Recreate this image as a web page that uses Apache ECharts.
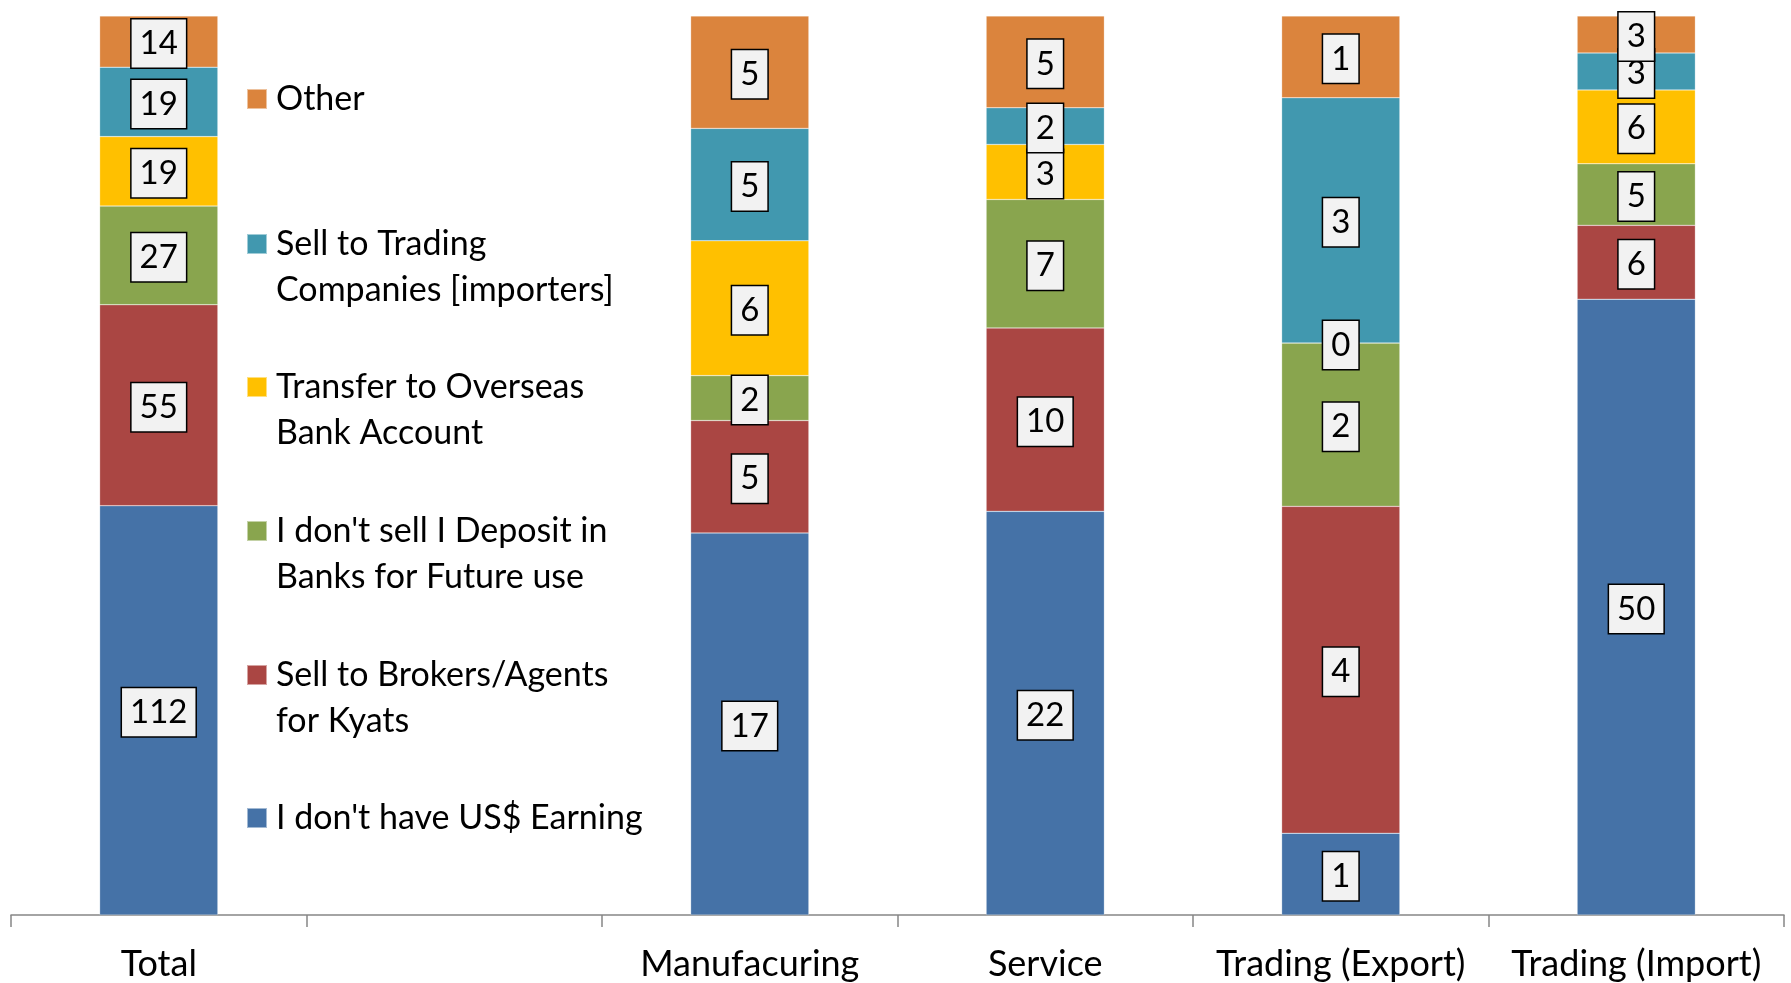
<!DOCTYPE html>
<html lang="en">
<head>
    <meta charset="UTF-8">
    <title>US$ earnings usage</title>
    <script src="https://cdn.jsdelivr.net/npm/echarts@6/dist/echarts.min.js"></script>
    <style>
        html, body { margin: 0; padding: 0; background: #fff; }
        #chart { width: 1791px; height: 983px; }
    </style>
</head>
<body>
<div id="chart"></div>
<script type="text/javascript">
    // categories (second slot is left empty, the legend sits there)
    var categories = ['Total', '', 'Manufacuring', 'Service', 'Trading (Export)', 'Trading (Import)'];

    // counts per answer, bottom of the stack first
    var noUsEarning      = [112, null, 17, 22, 1, 50];
    var sellBrokers      = [55, null, 5, 10, 4, 6];
    var depositBanks     = [27, null, 2, 7, 2, 5];
    var transferOverseas = [19, null, 6, 3, 0, 6];
    var sellTrading      = [19, null, 5, 2, 3, 3];
    var other            = [14, null, 5, 5, 1, 3];

    var seriesNames = [
        "I don't have US$ Earning",
        'Sell to Brokers/Agents for Kyats',
        "I don't sell I Deposit in Banks for Future use",
        'Transfer to Overseas Bank Account',
        'Sell to Trading Companies [importers]',
        'Other'
    ];
    var legendText = [
        "I don't have US$ Earning",
        'Sell to Brokers/Agents\nfor Kyats',
        "I don't sell I Deposit in\nBanks for Future use",
        'Transfer to Overseas\nBank Account',
        'Sell to Trading\nCompanies [importers]',
        'Other'
    ];
    var colors = ['#4572A7', '#AA4643', '#89A54E', '#FFC000', '#4198AF', '#DB843D'];
    var counts = [noUsEarning, sellBrokers, depositBanks, transferOverseas, sellTrading, other];

    var font = 'Lato';
    var totals = categories.map(function (c, i) {
        var s = 0;
        counts.forEach(function (arr) { if (arr[i] != null) s += arr[i]; });
        return s;
    });

    var series = counts.map(function (arr, k) {
        return {
            name: seriesNames[k],
            type: 'bar',
            stack: 'all',
            barWidth: '40%',
            itemStyle: { color: colors[k], borderColor: 'rgba(255,255,255,0.5)', borderWidth: 0.5 },
            label: {
                show: true,
                position: 'inside',
                offset: [0, 2],
                formatter: function (p) { return arr[p.dataIndex]; },
                fontFamily: font,
                fontSize: 33,
                lineHeight: 36,
                color: '#000',
                backgroundColor: '#f2f2f2',
                borderColor: '#000',
                borderWidth: 1.5,
                padding: [6, 8]
            },
            data: arr.map(function (v, i) {
                return v == null ? '-' : v / totals[i] * 100;
            })
        };
    });

    // one legend per entry, spread down the empty slot like the original.
    // two-line entries get an empty first line so the marker sits on the first text line
    var legendCenters = [818, 675, 531, 387, 244, 99];
    var legends = seriesNames.map(function (name, k) {
        var twoLines = legendText[k].indexOf('\n') >= 0;
        return {
            data: [name],
            left: 246,
            top: legendCenters[k] - (twoLines ? 69 : 23),
            padding: 0,
            icon: 'rect',
            itemWidth: 20,
            itemHeight: 20,
            formatter: function () { return (twoLines ? '\n' : '') + legendText[k]; },
            textStyle: {
                fontFamily: font,
                fontSize: 34,
                lineHeight: 46,
                color: '#000',
                padding: [0, 0, 0, 4]
            }
        };
    });

    var myChart = echarts.init(document.getElementById('chart'));
    var option = {
        animation: false,
        color: colors,
        legend: legends,
        grid: { left: 11, right: 7, top: 16, bottom: 68, containLabel: false },
        xAxis: {
            type: 'category',
            data: categories,
            axisLine: { lineStyle: { color: '#868686', width: 1.5 } },
            axisTick: { show: true, interval: 0, length: 12, lineStyle: { color: '#868686', width: 1.5 } },
            axisLabel: { interval: 0, fontFamily: font, fontSize: 36, color: '#000', margin: 31 }
        },
        yAxis: {
            type: 'value',
            min: 0,
            max: 100,
            show: false,
            splitLine: { show: false }
        },
        series: series
    };
    myChart.setOption(option);
</script>
</body>
</html>
